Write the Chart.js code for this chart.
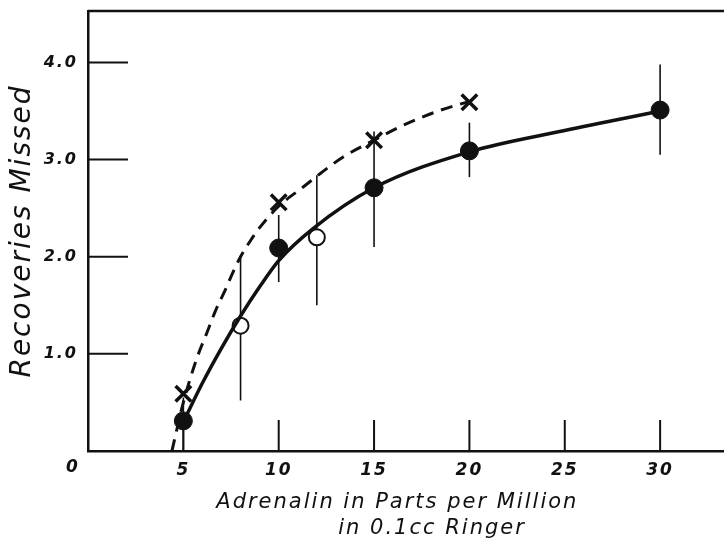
<!DOCTYPE html>
<html>
<head>
<meta charset="utf-8">
<script src="https://cdn.jsdelivr.net/npm/chart.js@4.4.1/dist/chart.umd.min.js"></script>
<style>
  body { margin: 0; background: #fff; }
  #wrap { width: 724px; height: 545px; }
</style>
</head>
<body>
<div id="wrap"><canvas id="recoveryChart"></canvas></div>
<script>
// tick values
const xTicks = [5, 10, 15, 20, 25, 30];
const yTicks = [1, 2, 3, 4];

// filled circles
const filledX = [5, 10, 15, 20, 30];
const filledY = [0.31, 2.09, 2.71, 3.09, 3.51];

// open circles
const openX = [8, 12];
const openY = [1.29, 2.2];

// crosses
const crossX = [5, 10, 15, 20];
const crossY = [0.59, 2.56, 3.2, 3.59];

// vertical range bars
const barX = [5, 8, 10, 12, 15, 20, 30];
const barLow = [0, 0.52, 1.74, 1.5, 2.1, 2.82, 3.05];
const barHigh = [0.55, 2.0, 2.43, 2.84, 3.29, 3.38, 3.98];

// solid fitted curve
const solidX = [5, 6, 7, 8, 9, 10, 11.8, 15, 20, 25, 30];
const solidY = [0.3, 0.7, 1.06, 1.39, 1.69, 1.96, 2.29, 2.71, 3.08, 3.3, 3.5];

// dashed curve
const dashX = [4.4, 5, 5.7, 6.2, 6.7, 7.2, 7.6, 8, 8.5, 9, 10, 11.3, 12.2, 13.4, 15, 16.6, 18.5, 20];
const dashY = [0, 0.5, 0.95, 1.2, 1.45, 1.66, 1.84, 2.0, 2.16, 2.3, 2.52, 2.72, 2.86, 3.03, 3.2, 3.36, 3.51, 3.6];

const ink = "#111";
const fam = "'DejaVu Sans', sans-serif";

function pts(xs, ys) {
  return xs.map((x, i) => ({ x: x, y: ys[i] }));
}

// draws range bars, inside ticks, top frame line and the corner "0"
const extras = {
  id: "extras",
  beforeDraw(chart) {
    chart.ctx.letterSpacing = "2px";
  },
  beforeDatasetsDraw(chart) {
    const ctx = chart.ctx;
    const xs = chart.scales.x;
    const ys = chart.scales.y;
    ctx.save();
    ctx.strokeStyle = ink;
    ctx.lineWidth = 1.6;
    barX.forEach((x, i) => {
      ctx.beginPath();
      ctx.moveTo(xs.getPixelForValue(x), ys.getPixelForValue(barLow[i]));
      ctx.lineTo(xs.getPixelForValue(x), ys.getPixelForValue(barHigh[i]));
      ctx.stroke();
    });

    // inside tick marks
    ctx.lineWidth = 2;
    const base = ys.getPixelForValue(0);
    xTicks.forEach((t) => {
      ctx.beginPath();
      ctx.moveTo(xs.getPixelForValue(t), base);
      ctx.lineTo(xs.getPixelForValue(t), base - 31);
      ctx.stroke();
    });
    const left = xs.getPixelForValue(0);
    yTicks.forEach((t) => {
      ctx.beginPath();
      ctx.moveTo(left, ys.getPixelForValue(t));
      ctx.lineTo(left + 40, ys.getPixelForValue(t));
      ctx.stroke();
    });

    // top frame
    ctx.lineWidth = 2.5;
    ctx.beginPath();
    ctx.moveTo(chart.chartArea.left, chart.chartArea.top);
    ctx.lineTo(chart.chartArea.right, chart.chartArea.top);
    ctx.stroke();

    // origin label
    ctx.fillStyle = ink;
    ctx.font = "italic bold 17px " + fam;
    ctx.textAlign = "center";
    ctx.textBaseline = "middle";
    ctx.fillText("0", left - 15, base + 17);
    ctx.restore();
  }
};

const ctx = document.getElementById("recoveryChart").getContext("2d");

new Chart(ctx, {
  type: "scatter",
  data: {
    datasets: [
      {
        label: "curve",
        data: pts(solidX, solidY),
        showLine: true,
        borderColor: ink,
        borderWidth: 3.5,
        pointRadius: 0,
        cubicInterpolationMode: "monotone",
      },
      {
        label: "dashed",
        data: pts(dashX, dashY),
        showLine: true,
        borderColor: ink,
        borderWidth: 3,
        borderDash: [12, 8],
        pointRadius: 0,
        cubicInterpolationMode: "monotone",
      },
      {
        label: "filled",
        data: pts(filledX, filledY),
        pointRadius: 9,
        backgroundColor: ink,
        borderColor: ink,
        borderWidth: 1,
      },
      {
        label: "open",
        data: pts(openX, openY),
        pointRadius: 8,
        backgroundColor: "#fff",
        borderColor: ink,
        borderWidth: 2,
      },
      {
        label: "cross",
        data: pts(crossX, crossY),
        pointStyle: "crossRot",
        pointRadius: 11,
        borderColor: ink,
        borderWidth: 3.5,
      },
    ],
  },
  options: {
    responsive: true,
    maintainAspectRatio: false,
    animation: false,
    events: [],
    layout: { autoPadding: false, padding: { top: 11, right: 0, left: 0, bottom: 0 } },
    plugins: {
      legend: { display: false },
      tooltip: { enabled: false },
    },
    scales: {
      x: {
        type: "linear",
        min: 0,
        max: 33.35,
        afterBuildTicks: (scale) => {
          scale.ticks = xTicks.map((v) => ({ value: v }));
        },
        afterFit: (scale) => {
          scale.height = 94;
          scale.paddingLeft = 0;
          scale.paddingRight = 0;
        },
        grid: { display: false, drawTicks: false },
        border: { display: true, color: ink, width: 2.5 },
        ticks: {
          color: ink,
          padding: 9,
          maxRotation: 0,
          font: { family: fam, size: 17, style: "italic", weight: "bold" },
        },
        title: {
          display: true,
          text: ["Adrenalin in Parts per Million  ", "      in 0.1cc Ringer"],
          color: ink,
          padding: { top: 0, bottom: 3 },
          font: { family: fam, size: 21, style: "italic", lineHeight: 1.25 },
        },
      },
      y: {
        min: 0,
        max: 4.53,
        afterBuildTicks: (scale) => {
          scale.ticks = yTicks.map((v) => ({ value: v }));
        },
        afterFit: (scale) => {
          scale.width = 88;
          scale.paddingTop = 0;
          scale.paddingBottom = 0;
        },
        grid: { display: false, drawTicks: false },
        border: { display: true, color: ink, width: 2.5 },
        ticks: {
          color: ink,
          padding: 10,
          callback: (v) => v.toFixed(1),
          font: { family: fam, size: 16, style: "italic", weight: "bold" },
        },
        title: {
          display: true,
          text: "Recoveries Missed",
          color: ink,
          padding: { top: 6, bottom: 0 },
          font: { family: fam, size: 28, style: "italic" },
        },
      },
    },
  },
  plugins: [extras],
});
</script>
</body>
</html>
